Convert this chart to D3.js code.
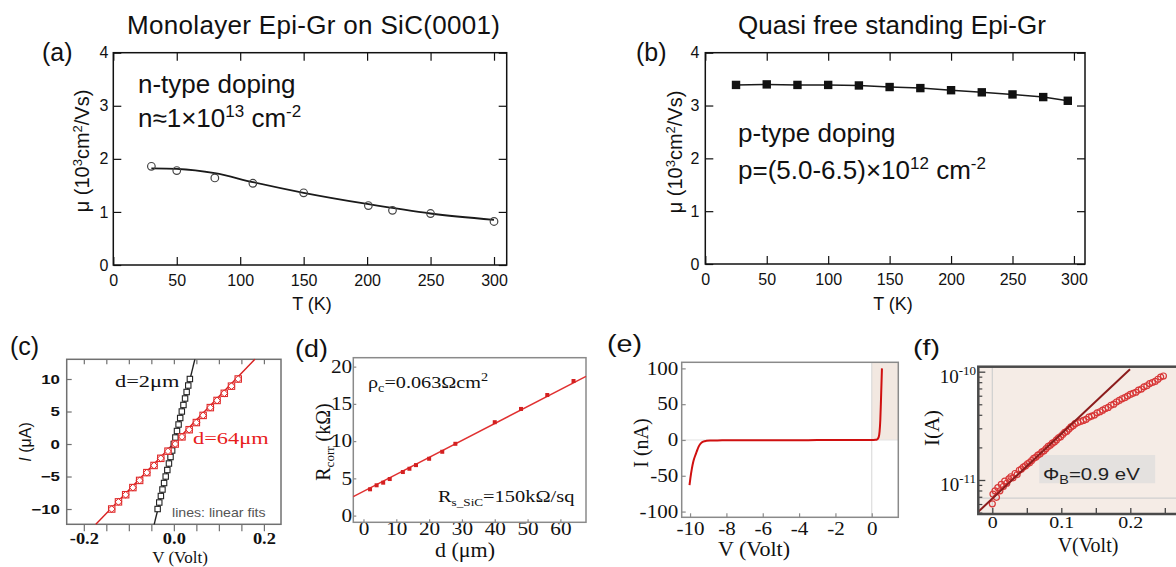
<!DOCTYPE html>
<html lang="en">
<head>
  <meta charset="UTF-8">
  <title>Epi-Gr mobility and SiC contacts</title>
  <script src="https://d3js.org/d3.v7.min.js"></script>
  <style>
    body { margin: 0; background: #fff; }
  </style>
</head>
<body>
  <div id="chart"></div>

  <script>
    // ---------- data ----------
    // (a) monolayer Epi-Gr on SiC(0001): open circles + smooth fit
    const aTemp = [30, 50, 80, 110, 150, 201, 220, 250, 300];
    const aMu = [1.86, 1.78, 1.64, 1.54, 1.36, 1.12, 1.03, 0.97, 0.82];
    const aFitTemp = [30, 50, 80, 110, 150, 200, 250, 300];
    const aFitMu = [1.82, 1.81, 1.73, 1.56, 1.36, 1.15, 0.97, 0.85];

    // (b) quasi free standing Epi-Gr: filled squares
    const bTemp = [25, 50, 75, 100, 125, 150, 175, 200, 225, 250, 275, 295];
    const bMu = [3.39, 3.40, 3.39, 3.39, 3.38, 3.35, 3.33, 3.29, 3.25, 3.21, 3.16, 3.09];

    const tempTicks = [0, 50, 100, 150, 200, 250, 300];
    const muTicks = [0, 1, 2, 3, 4];

    // (c) I-V curves, d=2um (black) and d=64um (red)
    const cBlackV = [-0.0360, -0.0324, -0.0288, -0.0253, -0.0217, -0.0181, -0.0145, -0.0109, -0.0074, -0.0038, -0.0002,
                     0.0034, 0.0070, 0.0105, 0.0141, 0.0177, 0.0213, 0.0249, 0.0284, 0.0320, 0.0356];
    const cBlackI = [-10, -9, -8, -7, -6, -5, -4, -3, -2, -1, 0, 1, 2, 3, 4, 5, 6, 7, 8, 9, 10];
    const cRedV = [-0.138, -0.123, -0.107, -0.091, -0.076, -0.060, -0.044, -0.029, -0.013, 0.003,
                   0.018, 0.034, 0.050, 0.065, 0.081, 0.096, 0.112, 0.128, 0.143];
    const cRedI = [-10, -8.9, -7.8, -6.7, -5.6, -4.4, -3.3, -2.2, -1.1, 0, 1.1, 2.2, 3.3, 4.4, 5.6, 6.7, 7.8, 8.9, 10];
    const cBlackFitV = [-0.0437, 0.0467], cBlackFitI = [-12.35, 13.03];
    const cRedFitV = [-0.1733, 0.18], cRedFitI = [-12.35, 13.03];
    const cVTicks = [-0.2, 0, 0.2];
    const cVMinor = [-0.2, -0.15, -0.1, -0.05, 0, 0.05, 0.1, 0.15, 0.2];
    const cITicks = [-10, -5, 0, 5, 10];

    // (d) TLM resistance vs spacing
    const dDist = [2, 4, 6, 8, 12, 14, 16, 20, 24, 28, 40, 48, 56, 64];
    const dRes = [3.53, 4.07, 4.42, 4.91, 5.85, 6.29, 6.78, 7.63, 8.57, 9.64, 12.54, 14.32, 16.19, 18.07];
    const dFitDist = [-3.1, 67.8], dFitRes = [2.55, 18.70];
    const dDistTicks = [0, 10, 20, 30, 40, 50, 60];
    const dResTicks = [0, 5, 10, 15, 20];

    // (e) diode I-V
    const eV = [-10.03, -9.98, -9.9, -9.82, -9.72, -9.63, -9.54, -9.45, -9.36, -9.27, -9.1, -8.9, -8.5, -8.0, -7.0,
                -6.0, -5.0, -4.0, -3.0, -2.0, -1.0, 0.0, 0.2, 0.3, 0.38, 0.43, 0.47, 0.5, 0.53, 0.56];
    const eI = [-63, -53, -40, -30, -22, -16, -10, -6, -3.5, -2.2, -1.2, -0.8, -0.6, -0.5, -0.4,
                -0.4, -0.3, -0.3, -0.2, -0.2, -0.1, 0, 0.3, 1, 4, 12, 28, 50, 75, 100];
    const eVTicks = [-10, -8, -6, -4, -2, 0];
    const eITicks = [-100, -50, 0, 50, 100];

    // (f) forward I-V on log scale (log10 of current in A)
    const fV = [0.000, 0.001, 0.004, 0.006, 0.008, 0.011, 0.013, 0.016, 0.018, 0.021, 0.024, 0.027, 0.030, 0.033,
                0.036, 0.039, 0.042, 0.045, 0.048, 0.051, 0.054, 0.057, 0.060, 0.063, 0.066, 0.069, 0.072, 0.075,
                0.078, 0.081, 0.084, 0.087, 0.090, 0.093, 0.096, 0.099, 0.102, 0.105, 0.108, 0.111, 0.114, 0.117,
                0.120, 0.124, 0.128, 0.132, 0.136, 0.140, 0.144, 0.148, 0.152, 0.156, 0.160, 0.164, 0.168, 0.172,
                0.176, 0.180, 0.184, 0.188, 0.192, 0.196, 0.200, 0.204, 0.208, 0.212, 0.216, 0.220, 0.224, 0.228,
                0.232, 0.236, 0.240, 0.244, 0.248];
    const fLogI = [-11.22, -11.13, -11.10, -11.16, -11.07, -11.10, -11.04, -11.06, -11.01, -11.03, -10.99, -10.97, -10.98, -10.94,
                   -10.95, -10.91, -10.90, -10.88, -10.87, -10.85, -10.84, -10.82, -10.80, -10.79, -10.77, -10.76, -10.74, -10.73,
                   -10.71, -10.69, -10.68, -10.66, -10.65, -10.63, -10.61, -10.60, -10.58, -10.56, -10.55, -10.53, -10.51, -10.50,
                   -10.48, -10.47, -10.46, -10.45, -10.44, -10.42, -10.41, -10.40, -10.38, -10.37, -10.355, -10.34, -10.33, -10.31,
                   -10.30, -10.28, -10.265, -10.25, -10.24, -10.225, -10.21, -10.20, -10.19, -10.17, -10.16, -10.14, -10.13, -10.11,
                   -10.10, -10.09, -10.07, -10.05, -10.04];
    const fFitV = [-0.0203, 0.1996], fFitLogI = [-11.293, -9.978];
    const fVTicks = [0, 0.1, 0.2];
    const fVMinor = [0, 0.05, 0.1, 0.15, 0.2, 0.25];
    const fDecades = [-11, -10];
    const fMinorI = [5e-12, 6e-12, 7e-12, 8e-12, 9e-12, 2e-11, 3e-11, 4e-11, 5e-11, 6e-11, 7e-11, 8e-11, 9e-11];
    const fGridI = 6.8e-12;

    // ---------- setup ----------
    const SANS = "'Liberation Sans', Arial, Helvetica, sans-serif";
    const SERIF = "'Liberation Serif', 'Times New Roman', Times, serif";

    const svg = d3.select("#chart")
                  .append("svg")
                  .attr("width", 1176)
                  .attr("height", 567);

    // text helper; sx stretches glyphs horizontally (the lower row of the figure is stretched)
    function label(x, y, html, o = {}) {
      let tr = `translate(${x},${y})`;
      if (o.rot) tr += ` rotate(${o.rot})`;
      if (o.sx) tr += ` scale(${o.sx},1)`;
      const t = svg.append("text")
        .attr("transform", tr)
        .attr("text-anchor", o.anchor || "start")
        .attr("font-family", o.font || SANS)
        .attr("font-size", o.size || 16)
        .attr("font-weight", o.weight || "normal")
        .attr("fill", o.color || "#111")
        .html(html);
      if (o.len) t.attr("textLength", o.len).attr("lengthAdjust", "spacing");
      return t;
    }

    const near = (v, list) => list.some(t => Math.abs(t - v) < 1e-9);

    // boxed axes with inward ticks
    function panelAxes(x, y, o) {
      const [xl, xr] = x.range();
      const [yb, yt] = y.range();
      const styler = s => sel => {
        sel.attr("font-family", s.font).attr("font-size", s.size).attr("font-weight", s.weight || "normal");
        sel.select(".domain").remove();
        sel.selectAll(".tick line").attr("stroke", o.tickColor).attr("stroke-width", 1.2);
        sel.selectAll(".tick text").attr("fill", "#111");
        if (s.sx) sel.selectAll(".tick text").attr("transform", `scale(${s.sx},1)`);
      };
      const xAll = o.xMinor || o.xTicks, yAll = o.yMinor || o.yTicks;

      svg.append("g")
         .attr("transform", `translate(0,${yb})`)
         .call(d3.axisBottom(x).tickValues(xAll).tickSize(o.xOut || -o.tick).tickPadding(o.padX)
               .tickFormat(d => near(d, o.xTicks) ? o.xFmt(d) : ""))
         .call(styler(o.xs));

      svg.append("g")
         .attr("transform", `translate(${xl},0)`)
         .call(d3.axisLeft(y).tickValues(yAll).tickSize(-o.tick).tickPadding(o.padY)
               .tickFormat(d => near(d, o.yTicks) ? o.yFmt(d) : ""))
         .call(styler(o.ys));

      if (o.top) {
        svg.append("g")
           .attr("transform", `translate(0,${yt})`)
           .call(d3.axisTop(x).tickValues(xAll).tickSize(-o.tick).tickFormat(""))
           .call(styler(o.xs));
      }
      if (o.right) {
        svg.append("g")
           .attr("transform", `translate(${xr},0)`)
           .call(d3.axisRight(y).tickValues(yAll).tickSize(-o.tick).tickFormat(""))
           .call(styler(o.ys));
      }
      svg.append("rect")
         .attr("x", xl).attr("y", yt)
         .attr("width", xr - xl).attr("height", yb - yt)
         .attr("fill", "none")
         .attr("stroke", o.frame)
         .attr("stroke-width", o.frameWidth || 1.5);
    }

    // ---------- (a) ----------
    const xA = d3.scaleLinear().domain([0, 310]).range([113.3, 506.7]);
    const yA = d3.scaleLinear().domain([0, 4]).range([265, 52.7]);

    panelAxes(xA, yA, {
      xTicks: tempTicks, yTicks: muTicks, tick: 8, padX: 10, padY: 5,
      xs: {font: SANS, size: 16}, ys: {font: SANS, size: 16},
      frame: "#111", tickColor: "#111", top: true, right: true,
      xFmt: String, yFmt: String
    });

    svg.append("path")
       .datum(aFitTemp.map((t, i) => [t, aFitMu[i]]))
       .attr("d", d3.line().x(d => xA(d[0])).y(d => yA(d[1])).curve(d3.curveMonotoneX))
       .attr("fill", "none").attr("stroke", "#1a1a1a").attr("stroke-width", 1.8);

    svg.append("g").selectAll("circle")
       .data(aTemp.map((t, i) => [t, aMu[i]]))
       .join("circle")
       .attr("cx", d => xA(d[0])).attr("cy", d => yA(d[1])).attr("r", 3.8)
       .attr("fill", "none").attr("stroke", "#444").attr("stroke-width", 1.2);

    label(127, 34, "Monolayer Epi-Gr on SiC(0001)", {size: 26, len: 373});
    label(42, 61, "(a)", {size: 25});
    label(138, 93, "n-type doping", {size: 26});
    label(138, 127, "n≈1×10<tspan dy='-10' font-size='17'>13</tspan><tspan dy='10'> cm</tspan><tspan dy='-10' font-size='17'>-2</tspan>", {size: 26});
    label(89, 151, "μ (10<tspan dy='-7' font-size='13'>3</tspan><tspan dy='7'>cm</tspan><tspan dy='-7' font-size='13'>2</tspan><tspan dy='7'>/Vs)</tspan>",
          {size: 20, rot: -90, anchor: "middle"});
    label(312, 310, "T (K)", {size: 18, anchor: "middle"});

    // ---------- (b) ----------
    const xB = d3.scaleLinear().domain([0, 309]).range([705.3, 1085]);
    const yB = d3.scaleLinear().domain([0, 4]).range([264, 52.7]);

    panelAxes(xB, yB, {
      xTicks: tempTicks, yTicks: muTicks, tick: 8, padX: 10, padY: 6,
      xs: {font: SANS, size: 16}, ys: {font: SANS, size: 16},
      frame: "#111", tickColor: "#111", top: true, right: true,
      xFmt: String, yFmt: String
    });

    const bPts = bTemp.map((t, i) => [t, bMu[i]]);
    svg.append("path")
       .datum(bPts)
       .attr("d", d3.line().x(d => xB(d[0])).y(d => yB(d[1])))
       .attr("fill", "none").attr("stroke", "#1a1a1a").attr("stroke-width", 1.5);

    svg.append("g").selectAll("rect")
       .data(bPts)
       .join("rect")
       .attr("x", d => xB(d[0]) - 4.2).attr("y", d => yB(d[1]) - 4.2)
       .attr("width", 8.4).attr("height", 8.4)
       .attr("fill", "#111");

    label(892, 34, "Quasi free standing Epi-Gr", {size: 26, anchor: "middle"});
    label(636, 61, "(b)", {size: 25});
    label(738, 142, "p-type doping", {size: 26});
    label(738, 179, "p=(5.0-6.5)×10<tspan dy='-10' font-size='17'>12</tspan><tspan dy='10'> cm</tspan><tspan dy='-10' font-size='17'>-2</tspan>", {size: 26});
    label(682, 152, "μ (10<tspan dy='-7' font-size='13'>3</tspan><tspan dy='7'>cm</tspan><tspan dy='-7' font-size='13'>2</tspan><tspan dy='7'>/Vs)</tspan>",
          {size: 20, rot: -90, anchor: "middle"});
    label(893, 310, "T (K)", {size: 18, anchor: "middle"});

    // ---------- (c) ----------
    const xC = d3.scaleLinear().domain([-0.238, 0.238]).range([66.7, 281]);
    const yC = d3.scaleLinear().domain([-12.35, 13.03]).range([524.3, 359.3]);

    panelAxes(xC, yC, {
      xTicks: cVTicks, xMinor: cVMinor, yTicks: cITicks, tick: 5, xOut: 7, padX: 1, padY: 5,
      xs: {font: SERIF, size: 16, weight: "bold", sx: 1.15},
      ys: {font: SANS, size: 12.5, weight: "bold", sx: 1.35},
      frame: "#707070", tickColor: "#707070", top: true,
      xFmt: d => d.toFixed(1), yFmt: d3.format("d")
    });

    const lineC = d3.line().x(d => xC(d[0])).y(d => yC(d[1]));
    svg.append("path")
       .datum(cBlackFitV.map((v, i) => [v, cBlackFitI[i]]))
       .attr("d", lineC).attr("stroke", "#222").attr("stroke-width", 1.4).attr("fill", "none");
    svg.append("path")
       .datum(cRedFitV.map((v, i) => [v, cRedFitI[i]]))
       .attr("d", lineC).attr("stroke", "#d81e1e").attr("stroke-width", 1.4).attr("fill", "none");

    svg.append("g").selectAll("rect")
       .data(cBlackV.map((v, i) => [v, cBlackI[i]]))
       .join("rect")
       .attr("x", d => xC(d[0]) - 2.7).attr("y", d => yC(d[1]) - 2.7)
       .attr("width", 5.4).attr("height", 5.4)
       .attr("fill", "#fff").attr("stroke", "#222").attr("stroke-width", 1.1);

    const redC = svg.append("g").selectAll("g")
       .data(cRedV.map((v, i) => [v, cRedI[i]]))
       .join("g")
       .attr("transform", d => `translate(${xC(d[0])},${yC(d[1])})`);
    redC.append("rect")
        .attr("x", -3.2).attr("y", -3.2).attr("width", 6.4).attr("height", 6.4)
        .attr("fill", "#fff").attr("stroke", "#e02a2a").attr("stroke-width", 1.1);
    redC.append("path")
        .attr("d", d3.symbol(d3.symbolDiamond2, 30))
        .attr("fill", "none").attr("stroke", "#e02a2a").attr("stroke-width", 1);

    label(10, 355, "(c)", {size: 25});
    label(115, 387, "d=2μm", {font: SERIF, size: 16, sx: 1.4});
    label(193, 444, "d=64μm", {font: SERIF, size: 16, sx: 1.4, color: "#e8201c"});
    label(172, 517, "lines: linear fits", {size: 12, sx: 1.18, color: "#555"});
    label(31, 442, "<tspan font-style='italic'>I</tspan> (μA)", {size: 16, rot: -90, anchor: "middle"});
    label(180, 563, "V (Volt)", {font: SERIF, size: 17, anchor: "middle"});

    // ---------- (d) ----------
    const xD = d3.scaleLinear().domain([-3.1, 67.8]).range([353.3, 586]);
    const yD = d3.scaleLinear().domain([-0.9, 21.2]).range([522.3, 357.7]);

    panelAxes(xD, yD, {
      xTicks: dDistTicks, yTicks: dResTicks, tick: 3, padX: 0, padY: 1,
      xs: {font: SERIF, size: 18, sx: 1.18}, ys: {font: SERIF, size: 18, sx: 1.18},
      frame: "#8a8a8a", tickColor: "#8a8a8a",
      xFmt: String, yFmt: String
    });

    svg.append("path")
       .datum(dFitDist.map((v, i) => [v, dFitRes[i]]))
       .attr("d", d3.line().x(d => xD(d[0])).y(d => yD(d[1])))
       .attr("stroke", "#e03030").attr("stroke-width", 1.4).attr("fill", "none");

    svg.append("g").selectAll("rect")
       .data(dDist.map((v, i) => [v, dRes[i]]))
       .join("rect")
       .attr("x", d => xD(d[0]) - 2).attr("y", d => yD(d[1]) - 2)
       .attr("width", 4).attr("height", 4)
       .attr("fill", "#d42020");

    label(295, 357, "(d)", {size: 24, sx: 1.12});
    label(368, 388, "ρ<tspan dy='4' font-size='12'>c</tspan><tspan dy='-4'>=0.063Ωcm</tspan><tspan dy='-7' font-size='12'>2</tspan>",
          {font: SERIF, size: 17, sx: 1.19});
    label(438, 502, "R<tspan dy='4' font-size='11'>s_SiC</tspan><tspan dy='-4'>=150kΩ/sq</tspan>",
          {font: SERIF, size: 17, sx: 1.2});
    label(330, 442, "R<tspan dy='4' font-size='13'>corr</tspan><tspan dy='-4'> (kΩ)</tspan>",
          {font: SERIF, size: 20, rot: -90, anchor: "middle"});
    label(465, 557, "d (μm)", {font: SERIF, size: 20, sx: 1.1, anchor: "middle"});

    // ---------- (e) ----------
    const xE = d3.scaleLinear().domain([-10.46, 1.46]).range([681.7, 898.3]);
    const yE = d3.scaleLinear().domain([-108, 108.5]).range([517.3, 362.3]);

    svg.append("rect")
       .attr("x", xE(0)).attr("y", yE(108.5))
       .attr("width", xE(1.46) - xE(0)).attr("height", yE(0) - yE(108.5))
       .attr("fill", "#f2e8e1");
    svg.append("line")
       .attr("x1", xE(-10.46)).attr("x2", xE(1.46)).attr("y1", yE(0)).attr("y2", yE(0))
       .attr("stroke", "#e2e2e2").attr("stroke-width", 1);
    svg.append("line")
       .attr("x1", xE(0)).attr("x2", xE(0)).attr("y1", yE(108.5)).attr("y2", yE(-108))
       .attr("stroke", "#d6d6d6").attr("stroke-width", 1);

    panelAxes(xE, yE, {
      xTicks: eVTicks, yTicks: eITicks, tick: 4, padX: 5, padY: 3,
      xs: {font: SERIF, size: 18, sx: 1.17}, ys: {font: SERIF, size: 18, sx: 1.17},
      frame: "#8a8a8a", tickColor: "#8a8a8a",
      xFmt: String, yFmt: String
    });

    svg.append("path")
       .datum(eV.map((v, i) => [v, eI[i]]))
       .attr("d", d3.line().x(d => xE(d[0])).y(d => yE(d[1])).curve(d3.curveMonotoneX))
       .attr("stroke", "#d01010").attr("stroke-width", 2).attr("fill", "none");

    label(607, 352, "(e)", {size: 24, sx: 1.2});
    label(648, 443, "I (nA)", {font: SERIF, size: 20, rot: -90, anchor: "middle"});
    label(754, 556, "V (Volt)", {font: SERIF, size: 20, sx: 1.1, anchor: "middle"});

    // ---------- (f) ----------
    const xF = d3.scaleLinear().domain([-0.0203, 0.3]).range([978.3, 1199.3]);
    const yF = d3.scaleLog().domain([Math.pow(10, -11.314), Math.pow(10, -9.954)]).range([514, 366.7]);
    const [fx0, fx1] = xF.range();
    const [fyb, fyt] = yF.range();

    svg.append("rect")
       .attr("x", fx0).attr("y", fyt).attr("width", fx1 - fx0).attr("height", fyb - fyt)
       .attr("fill", "#f5ece6");
    svg.append("line")
       .attr("x1", xF(0)).attr("x2", xF(0)).attr("y1", fyt).attr("y2", fyb)
       .attr("stroke", "#cfcfcf").attr("stroke-width", 1.2);
    svg.append("line")
       .attr("x1", fx0).attr("x2", fx1).attr("y1", yF(fGridI)).attr("y2", yF(fGridI))
       .attr("stroke", "#cfcfcf").attr("stroke-width", 1.2);
    // shaded box behind the barrier height note
    svg.append("rect")
       .attr("x", xF(0.068)).attr("y", yF(Math.pow(10, -10.769)))
       .attr("width", xF(0.236) - xF(0.068))
       .attr("height", yF(Math.pow(10, -11.03)) - yF(Math.pow(10, -10.769)))
       .attr("fill", "#e4e1df");

    // bottom ticks
    svg.append("g")
       .attr("transform", `translate(0,${fyb})`)
       .call(d3.axisBottom(xF).tickValues(fVMinor).tickSize(-6).tickPadding(2)
             .tickFormat(d => near(d, fVTicks) ? String(d) : ""))
       .call(sel => {
         sel.attr("font-family", SERIF).attr("font-size", 17);
         sel.select(".domain").remove();
         sel.selectAll(".tick line").attr("stroke", "#444").attr("stroke-width", 1.3);
         sel.selectAll(".tick text").attr("fill", "#111").attr("transform", "scale(1.17,1)");
       });
    // left ticks, decades long and minor short
    svg.append("g")
       .attr("transform", `translate(${fx0},0)`)
       .call(d3.axisLeft(yF).tickValues(fDecades.map(p => Math.pow(10, p))).tickSize(-7).tickFormat(""))
       .call(sel => sel.select(".domain").remove())
       .selectAll(".tick line").attr("stroke", "#444").attr("stroke-width", 1.3);
    svg.append("g")
       .attr("transform", `translate(${fx0},0)`)
       .call(d3.axisLeft(yF).tickValues(fMinorI).tickSize(-4).tickFormat(""))
       .call(sel => sel.select(".domain").remove())
       .selectAll(".tick line").attr("stroke", "#444").attr("stroke-width", 1.2);

    fDecades.forEach(p => {
      label(976, yF(Math.pow(10, p)) + 11, `10<tspan dy='-8' font-size='13'>${p}</tspan>`,
            {font: SERIF, size: 19, anchor: "end"});
    });

    svg.append("g").selectAll("circle")
       .data(fV.map((v, i) => [v, Math.pow(10, fLogI[i])]))
       .join("circle")
       .attr("cx", d => xF(d[0])).attr("cy", d => yF(d[1])).attr("r", 3)
       .attr("fill", "none").attr("stroke", "#d83838").attr("stroke-width", 1.2);

    svg.append("path")
       .datum(fFitV.map((v, i) => [v, Math.pow(10, fFitLogI[i])]))
       .attr("d", d3.line().x(d => xF(d[0])).y(d => yF(d[1])))
       .attr("stroke", "#8c1c1c").attr("stroke-width", 2).attr("fill", "none");

    svg.append("rect")
       .attr("x", fx0).attr("y", fyt).attr("width", fx1 - fx0).attr("height", fyb - fyt)
       .attr("fill", "none").attr("stroke", "#4a4a4a").attr("stroke-width", 2.5);

    label(913, 355, "(f)", {size: 22, sx: 1.3});
    label(1043, 480, "Φ<tspan dy='4' font-size='12'>B</tspan><tspan dy='-4'>=0.9 eV</tspan>", {size: 17, sx: 1.2, color: "#222"});
    label(939, 428, "I(A)", {font: SERIF, size: 21, rot: -90, anchor: "middle"});
    label(1088, 552, "V(Volt)", {font: SERIF, size: 20, anchor: "middle"});
  </script>
</body>
</html>
